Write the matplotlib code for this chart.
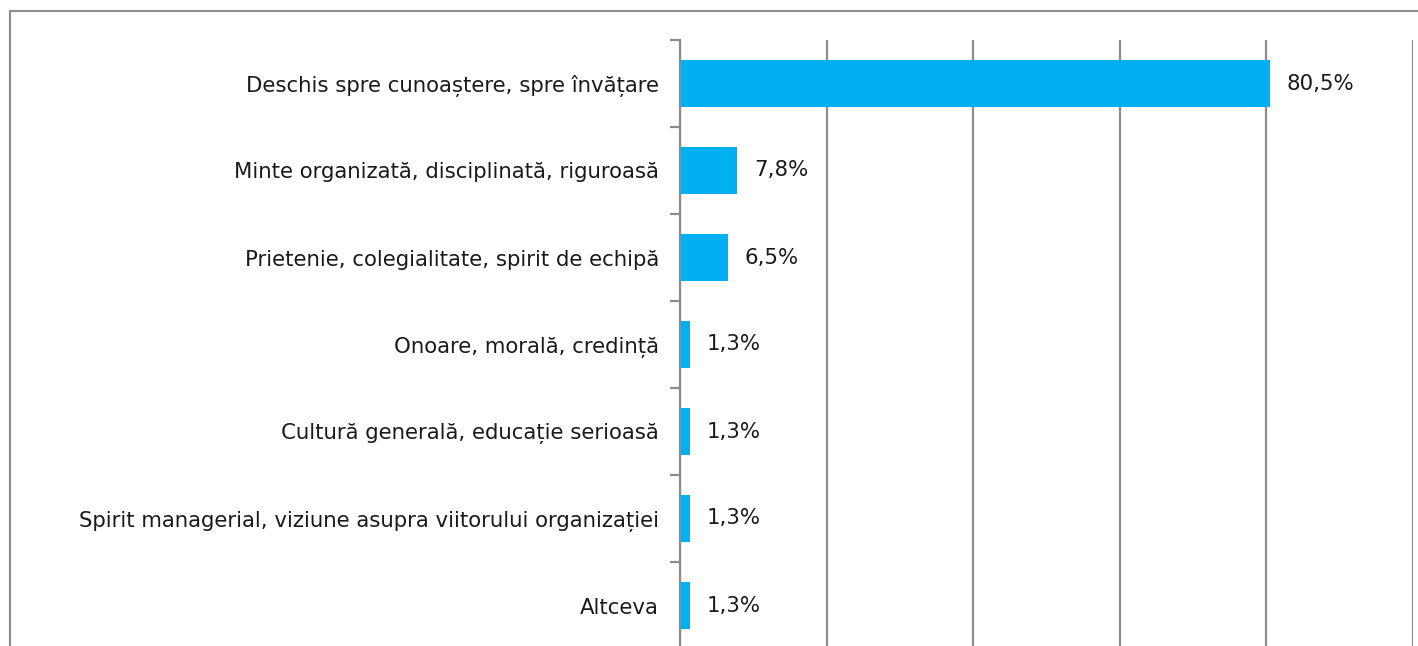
import matplotlib
matplotlib.use("Agg")
import matplotlib.pyplot as plt
from matplotlib.patches import Rectangle
from matplotlib.ticker import FixedLocator, MultipleLocator

categories = [
    "Deschis spre cunoaștere, spre învățare",
    "Minte organizată, disciplinată, riguroasă",
    "Prietenie, colegialitate, spirit de echipă",
    "Onoare, morală, credință",
    "Cultură generală, educație serioasă",
    "Spirit managerial, viziune asupra viitorului organizației",
    "Altceva",
]
values = [80.5, 7.8, 6.5, 1.3, 1.3, 1.3, 1.3]
value_labels = ["80,5%", "7,8%", "6,5%", "1,3%", "1,3%", "1,3%", "1,3%"]

W, H = 1418, 646
fig = plt.figure(figsize=(W / 100, H / 100), dpi=100)
plt.rcParams['font.family'] = ['DejaVu Sans']

# outer chart border (cropped at right/bottom)
fig.patches.append(Rectangle((10 / W, -0.05), 1.2, 1 - 11 / H + 0.05,
                             transform=fig.transFigure, fill=False,
                             edgecolor="#8c8c8c", linewidth=1.5))

ax = fig.add_axes([680 / W, -3 / H, (1413 - 680) / W, (649 - 40) / H])
n = len(categories)
ypos = list(range(n))
ax.barh(ypos, values, height=0.55, color="#00B0F0")
ax.set_ylim(n - 0.5, -0.5)
ax.set_xlim(0, 100)

ax.xaxis.set_major_locator(MultipleLocator(20))
ax.grid(axis="x", color="#8c8c8c", linewidth=1.6)
ax.set_axisbelow(True)
ax.tick_params(axis="x", bottom=False, labelbottom=False)

ax.set_yticks(ypos)
ax.set_yticklabels(categories, fontsize=15.3, color="#1a1a1a")
ax.tick_params(axis="y", which="major", length=0, pad=15)
ax.yaxis.set_minor_locator(FixedLocator([i - 0.5 for i in range(n + 1)]))
ax.tick_params(axis="y", which="minor", length=7, width=1.6, color="#8c8c8c")

for s in ["top", "right", "bottom"]:
    ax.spines[s].set_visible(False)
ax.spines["left"].set_color("#8c8c8c")
ax.spines["left"].set_linewidth(1.6)

for y, v, lab in zip(ypos, values, value_labels):
    ax.annotate(lab, (v, y), xytext=(12, 0), textcoords="offset points",
                va="center", ha="left", fontsize=15.3, color="#1a1a1a")

fig.savefig("out.png", dpi=100)
